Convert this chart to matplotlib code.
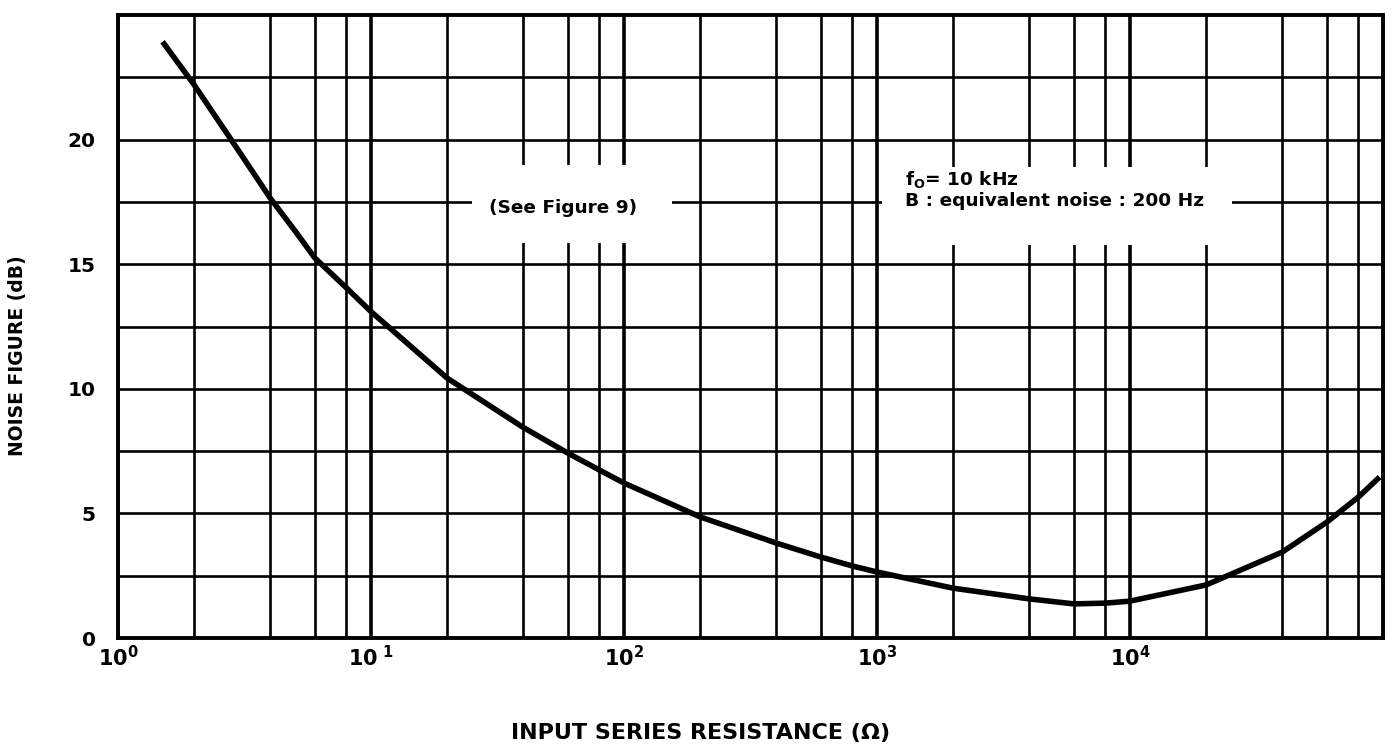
import matplotlib
matplotlib.use("Agg")
import matplotlib.pyplot as plt
from matplotlib.ticker import LogLocator, FixedLocator, NullFormatter
from matplotlib.patches import Rectangle

plt.rcParams['font.family'] = ['DejaVu Sans']
plt.rcParams['mathtext.fontset'] = 'custom'
plt.rcParams['mathtext.rm'] = 'DejaVu Sans:bold'
plt.rcParams['mathtext.bf'] = 'DejaVu Sans:bold'
plt.rcParams['mathtext.it'] = 'DejaVu Sans:bold'

# Data
resistance = [1.5, 2, 3, 4, 5, 6, 8, 10, 20, 40, 60, 80, 100, 200, 400, 600,
              800, 1000, 2000, 4000, 6000, 8000, 10000, 20000, 40000, 60000, 80000,
              97000]
noise_figure = [23.93, 22.2, 19.55, 17.65, 16.35, 15.25, 14.05, 13.1, 10.43,
                8.45, 7.42, 6.74, 6.22, 4.86, 3.81, 3.25, 2.89, 2.65, 2.0, 1.57,
                1.37, 1.4, 1.48, 2.13, 3.45, 4.65, 5.66, 6.46]

x_ticks = [1, 10, 100, 1000, 10000]
x_tick_labels = [r'$10^{0}$', r'$10^{\ 1}$', r'$10^{2}$', r'$10^{3}$', r'$10^{4}$']
y_ticks = [0, 5, 10, 15, 20]
y_minor = [2.5, 7.5, 12.5, 17.5, 22.5]

fig = plt.figure(figsize=(13.93, 7.53), dpi=100)
ax = fig.add_axes([0.0847, 0.1527, 0.9081, 0.8273])
ax.set_xscale('log')
ax.set_xlim(1, 1e5)
ax.set_ylim(0, 25)

ax.xaxis.set_major_locator(FixedLocator(x_ticks))
ax.xaxis.set_minor_locator(LogLocator(base=10, subs=(2, 4, 6, 8)))
ax.xaxis.set_minor_formatter(NullFormatter())
ax.set_xticklabels(x_tick_labels)
ax.yaxis.set_major_locator(FixedLocator(y_ticks))
ax.yaxis.set_minor_locator(FixedLocator(y_minor))

ax.set_axisbelow(True)
ax.grid(True, which='major', axis='x', color='black', linewidth=2.6)
ax.grid(True, which='minor', axis='x', color='black', linewidth=1.9)
ax.grid(True, which='both', axis='y', color='black', linewidth=1.9)

ax.tick_params(which='both', length=0)
ax.tick_params(axis='x', pad=5, labelsize=15)
ax.tick_params(axis='y', pad=16, labelsize=14.5)
for lab in ax.get_yticklabels():
    lab.set_fontweight('bold')

for s in ax.spines.values():
    s.set_linewidth(2.8)

# white gaps in the grid behind the annotations
ax.add_patch(Rectangle((0.280, 0.634), 0.158, 0.125, transform=ax.transAxes,
                       facecolor='white', edgecolor='none', zorder=2))
ax.add_patch(Rectangle((0.604, 0.631), 0.277, 0.125, transform=ax.transAxes,
                       facecolor='white', edgecolor='none', zorder=2))

ax.text(0.3515, 0.69, '(See Figure 9)', transform=ax.transAxes, ha='center',
        va='center', fontsize=13.3, fontweight='bold', zorder=3)
ax.text(0.622, 0.7365, r'f$_{\mathrm{O}}$= 10 kHz', transform=ax.transAxes, ha='left',
        va='center', fontsize=13.3, fontweight='bold', zorder=3)
ax.text(0.622, 0.7015, 'B : equivalent noise : 200 Hz', transform=ax.transAxes,
        ha='left', va='center', fontsize=13.3, fontweight='bold', zorder=3)

ax.plot(resistance, noise_figure, color='black', linewidth=4, zorder=4,
        solid_capstyle='butt', solid_joinstyle='round', clip_on=True)

fig.text(0.0125, 0.528, 'NOISE FIGURE (dB)', rotation=90, ha='center', va='center',
         fontsize=13.5, fontweight='bold')
fig.text(0.503, 0.027, 'INPUT SERIES RESISTANCE (Ω)', ha='center', va='center',
         fontsize=16, fontweight='bold')

fig.savefig('out.png', dpi=100)
